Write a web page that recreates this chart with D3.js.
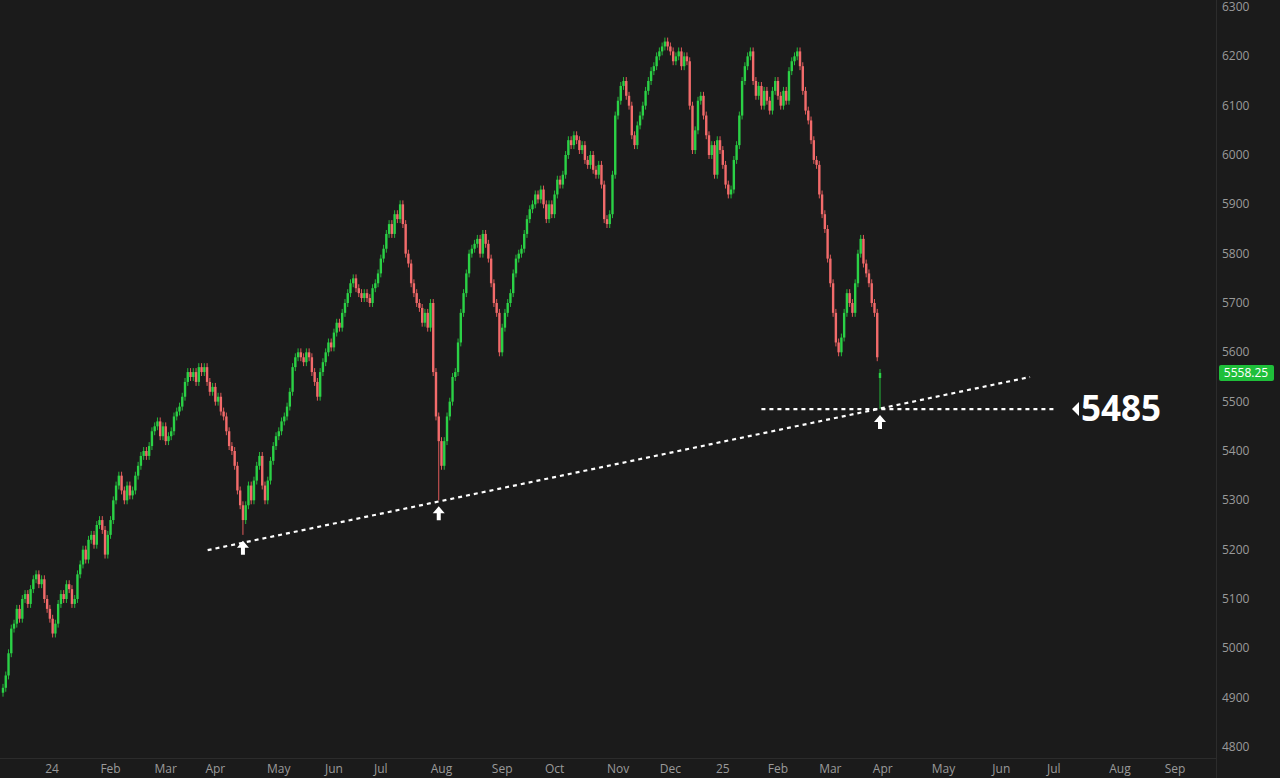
<!DOCTYPE html>
<html><head><meta charset="utf-8">
<script src="https://cdn.jsdelivr.net/npm/d3@7"></script>
<style>
  body { margin: 0; background: #1b1b1b; }
  text { font-family: "Open Sans", "Noto Sans", sans-serif; }
</style></head>
<body><svg id="chart" width="1280" height="778"></svg>
<script>
// Daily closes (trading-day index)
const closes = [
  4920,4945,4990,5040, 5050,5080,5060,5100, 5110,5090,5120,5140, 5150,5130,5140,5100,
  5080,5060,5030,5050, 5090,5110,5100,5130, 5120,5090,5100,5150, 5170,5200,5180,5220,
  5230,5210,5250,5260, 5240,5190,5230,5260, 5300,5330,5350,5320, 5300,5330,5310,5320,
  5350,5370,5390,5400, 5390,5410,5440,5450, 5460,5430,5450,5420, 5430,5440,5470,5480,
  5490,5510,5540,5560, 5550,5560,5540,5570, 5560,5570,5540,5520, 5530,5500,5510,5480,
  5470,5440,5410,5400, 5370,5320,5290,5260, 5290,5330,5300,5340, 5370,5390,5330,5300,
  5340,5380,5410,5430, 5440,5460,5470,5490, 5520,5570,5590,5600, 5590,5580,5600,5590,
  5560,5540,5510,5560, 5580,5600,5620,5610, 5640,5660,5650,5680, 5700,5720,5740,5750,
  5730,5720,5710,5720, 5710,5700,5730,5740, 5760,5790,5810,5840, 5860,5840,5880,5870,
  5900,5860,5800,5780, 5740,5720,5700,5690, 5660,5680,5650,5700, 5560,5470,5420,5370,
  5420,5470,5500,5550, 5560,5620,5680,5720, 5760,5800,5810,5820, 5830,5800,5840,5820,
  5790,5740,5700,5680, 5600,5650,5680,5700, 5720,5760,5790,5800, 5810,5840,5870,5890,
  5900,5920,5910,5930, 5900,5870,5900,5880, 5920,5950,5940,5960, 6000,6030,6020,6040,
  6030,6010,6020,5990, 5980,6000,5970,5960, 5980,5940,5870,5860, 5880,5960,6080,6110,
  6140,6150,6120,6100, 6040,6020,6060,6080, 6100,6130,6150,6170, 6180,6200,6210,6220,
  6230,6220,6210,6190, 6200,6210,6180,6200, 6190,6100,6010,6050, 6110,6120,6080,6040,
  6000,6020,5960,6030, 6010,5980,5940,5920, 5930,5990,6020,6080, 6150,6180,6200,6210,
  6150,6120,6140,6100, 6130,6110,6090,6130, 6150,6120,6100,6130, 6110,6170,6190,6200,
  6210,6180,6130,6090, 6070,6030,5990,5980, 5920,5880,5850,5790, 5740,5680,5620,5600,
  5630,5680,5720,5700, 5680,5740,5800,5830, 5780,5760,5740,5700, 5680,5590,5558.25
];
// Notable intraday lows (index -> low)
const spikeLows = { 87: 5230, 158: 5300, 318: 5485 };
const lastOpen = 5548;

const monthLabels = ["24","Feb","Mar","Apr","May","Jun","Jul","Aug","Sep","Oct","Nov","Dec",
                     "25","Feb","Mar","Apr","May","Jun","Jul","Aug","Sep"];
const monthIdx = [17.8,39,59,77,100,120,137,159,181,200,223,242,261,281,300,319,341,362,381,405,425];
const priceTicks = [4800,4900,5000,5100,5200,5300,5400,5500,5600,5700,5800,5900,6000,6100,6200,6300];

const trendLine = [[74.2, 5199], [372.4, 5550]];
const levelLine = [[275, 5485], [381, 5485]];
const arrows = [[87, 5230], [158, 5300], [318, 5485]];
const level = 5485;

const svg = d3.select("#chart");
const x = d3.scaleLinear().domain([0, closes.length - 1]).range([3, 880]);
const y = d3.scaleLinear().domain([4800, 6300]).range([747, 7]);

svg.append("rect").attr("width", 1280).attr("height", 778).attr("fill", "#1b1b1b");
svg.append("line").attr("x1", 0).attr("x2", 1216).attr("y1", 758.5).attr("y2", 758.5).attr("stroke", "#2c2c2c");
svg.append("line").attr("x1", 1216.5).attr("x2", 1216.5).attr("y1", 0).attr("y2", 778).attr("stroke", "#2c2c2c");

// Candles
const candles = closes.map((c, i) => {
  const o = i === closes.length - 1 ? lastOpen : (i ? closes[i - 1] : c - 10);
  const hi = Math.max(o, c) + 8, lo = spikeLows[i] !== undefined ? spikeLows[i] : Math.min(o, c) - 8;
  return { i, o, c, hi, lo };
});
const g = svg.append("g");
g.selectAll("line.wick").data(candles).join("line")
  .attr("x1", d => x(d.i)).attr("x2", d => x(d.i))
  .attr("y1", d => y(d.hi)).attr("y2", d => y(d.lo))
  .attr("stroke", d => d.c >= d.o ? "#24b83a" : "#e05a5a").attr("stroke-width", 1);
g.selectAll("rect").data(candles).join("rect")
  .attr("x", d => x(d.i) - 1.2).attr("width", 2.4)
  .attr("y", d => y(Math.max(d.o, d.c)))
  .attr("height", d => Math.max(1, Math.abs(y(d.o) - y(d.c))))
  .attr("fill", d => d.c >= d.o ? "#2bd146" : "#f26b6b");

// Price axis
svg.selectAll("text.py").data(priceTicks).join("text")
  .attr("x", 1222).attr("y", d => y(d) + 4).attr("fill", "#9a9a9a").attr("font-size", 12).text(d => d);
// Month axis
svg.selectAll("text.mx").data(monthLabels).join("text")
  .attr("x", (d, k) => x(monthIdx[k])).attr("y", 773).attr("text-anchor", "middle")
  .attr("fill", "#9a9a9a").attr("font-size", 12).text(d => d);

// Dotted support lines
const line = d3.line().x(d => x(d[0])).y(d => y(d[1]));
[trendLine, levelLine].forEach(l => svg.append("path").attr("d", line(l))
  .attr("stroke", "#fff").attr("stroke-width", 2.2).attr("stroke-dasharray", "4,4").attr("fill", "none"));

// Arrows
arrows.forEach(([i, p]) => {
  const ax = x(i), ay = y(p) + 6;
  svg.append("path")
    .attr("d", `M${ax},${ay} l-6,7 h4 v7 h4 v-7 h4 z`).attr("fill", "#fff");
});

// Last price tag
const last = closes[closes.length - 1];
svg.append("rect").attr("x", 1219).attr("y", y(last) - 8).attr("width", 55).attr("height", 16)
  .attr("rx", 2).attr("fill", "#1fbf3a");
svg.append("text").attr("x", 1246).attr("y", y(last) + 4).attr("text-anchor", "middle")
  .attr("fill", "#fff").attr("font-size", 12).text(last.toFixed(2));

// Level label
svg.append("path").attr("d", `M1072,${y(level)} l7,-7 v14 z`).attr("fill", "#fff");
svg.append("text").attr("x", 1081).attr("y", y(level) + 12).attr("fill", "#fff")
  .attr("font-size", 35).attr("font-weight", "bold").text(level);
</script></body></html>
